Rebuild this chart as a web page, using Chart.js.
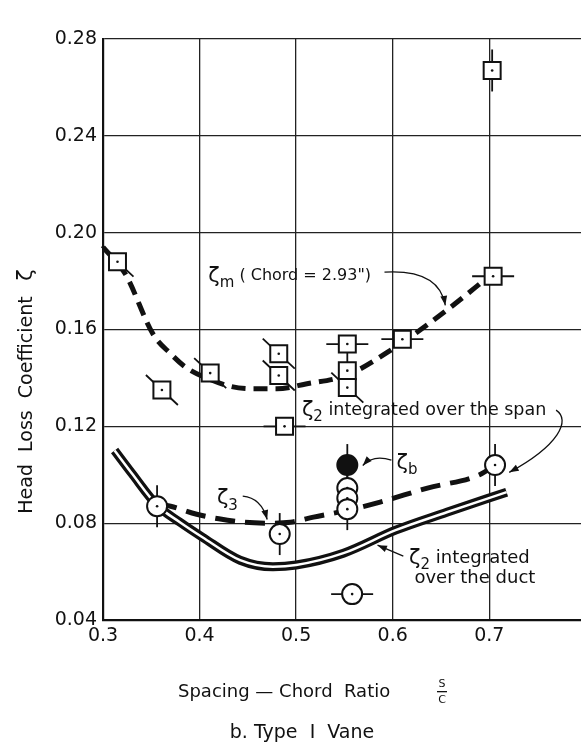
<!DOCTYPE html>
<html>
<head>
<meta charset="utf-8">
<script src="https://cdn.jsdelivr.net/npm/chart.js@4/dist/chart.umd.min.js"></script>
<style>
  body { margin: 0; background: #fff; }
  canvas { display: block; }
</style>
</head>
<body>
<canvas id="chart" width="581" height="750"></canvas>
<script>
// tick values and labels
const xTickVals = [0.3, 0.4, 0.5, 0.6, 0.7];
const xTickLabels = ["0.3", "0.4", "0.5", "0.6", "0.7"];
const yTickVals = [0.04, 0.08, 0.12, 0.16, 0.20, 0.24, 0.28];
const yTickLabels = ["0.04", "0.08", "0.12", "0.16", "0.20", "0.24", "0.28"];

// zeta_m measured points (squares), tail = direction of the scatter bar
const sqX = [0.315, 0.361, 0.411, 0.482, 0.482, 0.488, 0.553, 0.553, 0.553, 0.610, 0.704, 0.703];
const sqY = [0.188, 0.135, 0.142, 0.150, 0.141, 0.120, 0.154, 0.143, 0.136, 0.156, 0.182, 0.267];
const sqTail = ["d", "d", "d", "d", "d", "h", "h", "v", "d", "h", "h", "v"];

// zeta_2 over the span (open circles)
const circX = [0.356, 0.483, 0.553, 0.553, 0.553, 0.706, 0.558];
const circY = [0.087, 0.0755, 0.0945, 0.0903, 0.0858, 0.104, 0.0507];
const circTail = ["v", "v", "v", "v", "v", "v", "h"];

// zeta_b (filled circle)
const bX = [0.553];
const bY = [0.104];

// zeta_m fitted curve (dashed)
const zmX = [0.300, 0.323, 0.352, 0.370, 0.387, 0.410, 0.432, 0.455, 0.480, 0.510, 0.553, 0.600, 0.656, 0.700];
const zmY = [0.194, 0.183, 0.158, 0.150, 0.144, 0.1395, 0.1365, 0.1355, 0.1355, 0.1375, 0.1412, 0.152, 0.168, 0.182];

// zeta_3 curve (dashed)
const z3X = [0.356, 0.370, 0.397, 0.420, 0.445, 0.470, 0.494, 0.518, 0.553, 0.587, 0.636, 0.690, 0.706];
const z3Y = [0.088, 0.087, 0.0837, 0.0818, 0.0804, 0.0800, 0.0804, 0.0825, 0.0853, 0.0887, 0.0945, 0.1000, 0.104];

// zeta_2 integrated over the duct (double line)
const ductX = [0.312, 0.330, 0.356, 0.380, 0.403, 0.442, 0.476, 0.500, 0.549, 0.603, 0.656, 0.718];
const ductY = [0.110, 0.1005, 0.0874, 0.0803, 0.0742, 0.0647, 0.0620, 0.0627, 0.0676, 0.0771, 0.0845, 0.0928];

const pts = (xs, ys) => xs.map((x, i) => ({ x: x, y: ys[i] }));
const FONT = "DejaVu Sans";

// little bars through the markers
const tailPlugin = {
  id: "tails",
  beforeDatasetsDraw(chart) {
    const ctx = chart.ctx;
    ctx.save();
    ctx.strokeStyle = "#111";
    ctx.lineWidth = 1.8;
    chart.data.datasets.forEach((ds, i) => {
      if (!ds.tails) return;
      chart.getDatasetMeta(i).data.forEach((el, j) => {
        const t = ds.tails[j];
        ctx.beginPath();
        if (t == "h") { ctx.moveTo(el.x - 21, el.y); ctx.lineTo(el.x + 21, el.y); }
        if (t == "v") { ctx.moveTo(el.x, el.y - 21); ctx.lineTo(el.x, el.y + 21); }
        if (t == "d") { ctx.moveTo(el.x - 16, el.y - 15); ctx.lineTo(el.x + 16, el.y + 15); }
        ctx.stroke();
      });
    });
    ctx.restore();
  }
};

// draws "ζ" with a subscript, returns x after it
function zeta(ctx, x, y, sub, size) {
  ctx.font = size + "px " + FONT;
  ctx.fillText("ζ", x, y);
  const w = ctx.measureText("ζ").width;
  ctx.font = Math.round(size * 0.7) + "px " + FONT;
  ctx.fillText(sub, x + w, y + size * 0.32);
  return x + w + ctx.measureText(sub).width;
}

function arrow(ctx, p) {
  ctx.beginPath();
  ctx.moveTo(p[0].x, p[0].y);
  if (p.length == 2) ctx.lineTo(p[1].x, p[1].y);
  if (p.length == 3) ctx.quadraticCurveTo(p[1].x, p[1].y, p[2].x, p[2].y);
  if (p.length == 4) ctx.bezierCurveTo(p[1].x, p[1].y, p[2].x, p[2].y, p[3].x, p[3].y);
  ctx.stroke();
  const e = p[p.length - 1], c = p[p.length - 2];
  const a = Math.atan2(e.y - c.y, e.x - c.x);
  ctx.beginPath();
  ctx.moveTo(e.x, e.y);
  ctx.lineTo(e.x - 10 * Math.cos(a - 0.35), e.y - 10 * Math.sin(a - 0.35));
  ctx.lineTo(e.x - 10 * Math.cos(a + 0.35), e.y - 10 * Math.sin(a + 0.35));
  ctx.closePath();
  ctx.fill();
}

// annotation anchors in data units
const arrowPaths = [
  [[0.5915, 0.1837], [0.648, 0.1850], [0.6545, 0.1700]],
  [[0.7692, 0.1267], [0.7847, 0.1226], [0.7723, 0.1122], [0.7207, 0.1010]],
  [[0.5987, 0.1060], [0.5800, 0.1085], [0.5690, 0.1038]],
  [[0.4447, 0.0912], [0.4640, 0.0905], [0.4700, 0.0815]],
  [[0.6110, 0.0664], [0.5843, 0.0709]]
];

const notePlugin = {
  id: "notes",
  afterDatasetsDraw(chart) {
    const ctx = chart.ctx, xs = chart.scales.x, ys = chart.scales.y;
    const px = (v) => xs.getPixelForValue(v), py = (v) => ys.getPixelForValue(v);
    ctx.save();
    ctx.fillStyle = "#111";
    ctx.strokeStyle = "#111";
    ctx.lineWidth = 1.3;
    ctx.textBaseline = "middle";
    ctx.textAlign = "left";

    let x = zeta(ctx, px(0.409), py(0.182), "m", 21);
    ctx.font = "16px " + FONT;
    ctx.fillText(" ( Chord = 2.93\")", x, py(0.182));

    x = zeta(ctx, px(0.506), py(0.1267), "2", 21);
    ctx.font = "17.5px " + FONT;
    ctx.fillText(" integrated over the span", x, py(0.1267));

    zeta(ctx, px(0.604), py(0.1045), "b", 21);
    zeta(ctx, px(0.418), py(0.0900), "3", 21);

    x = zeta(ctx, px(0.617), py(0.0655), "2", 21);
    ctx.font = "18px " + FONT;
    ctx.fillText(" integrated", x, py(0.0655));
    ctx.fillText("over the duct", px(0.6225), py(0.0573));

    arrowPaths.forEach((p) => arrow(ctx, p.map((q) => ({ x: px(q[0]), y: py(q[1]) }))));
    ctx.restore();
  },
  afterDraw(chart) {
    const ctx = chart.ctx;
    ctx.save();
    ctx.fillStyle = "#111";
    ctx.textBaseline = "middle";
    // y axis title
    ctx.translate(27, 392);
    ctx.rotate(-Math.PI / 2);
    ctx.textAlign = "center";
    ctx.font = "19px " + FONT;
    ctx.fillText("Head  Loss  Coefficient", -13, 0);
    ctx.font = "21px " + FONT;
    ctx.fillText("ζ", 117, 0);
    ctx.setTransform(1, 0, 0, 1, 0, 0);
    // x axis title
    ctx.textAlign = "left";
    ctx.font = "18px " + FONT;
    ctx.fillText("Spacing \u2014 Chord  Ratio", 178, 692);
    ctx.font = "11px " + FONT;
    ctx.textAlign = "center";
    ctx.fillText("S", 442, 684);
    ctx.fillText("C", 442, 700);
    ctx.fillRect(437, 691, 10, 1.3);
    ctx.font = "19px " + FONT;
    ctx.fillText("b. Type  I  Vane", 302, 733);
    ctx.restore();
  }
};

new Chart(document.getElementById("chart"), {
  type: "scatter",
  plugins: [tailPlugin, notePlugin],
  data: {
    datasets: [
      // center dots in the open markers
      {
        data: pts(sqX.concat(circX), sqY.concat(circY)),
        pointRadius: 1.3, pointBackgroundColor: "#111", pointBorderWidth: 0, order: 1
      },
      {
        data: pts(sqX, sqY), tails: sqTail,
        pointStyle: "rect", pointRadius: 12, pointBackgroundColor: "#fff",
        pointBorderColor: "#111", pointBorderWidth: 2, order: 3
      },
      {
        data: pts(bX, bY), tails: ["v"],
        pointStyle: "circle", pointRadius: 10, pointBackgroundColor: "#111",
        pointBorderColor: "#111", pointBorderWidth: 2, order: 4
      },
      {
        data: pts(circX, circY), tails: circTail,
        pointStyle: "circle", pointRadius: 10, pointBackgroundColor: "#fff",
        pointBorderColor: "#111", pointBorderWidth: 2, order: 2
      },
      {
        data: pts(zmX, zmY), showLine: true, pointRadius: 0,
        borderColor: "#111", borderWidth: 5, borderDash: [14, 8],
        cubicInterpolationMode: "monotone", order: 8
      },
      {
        data: pts(z3X, z3Y), showLine: true, pointRadius: 0,
        borderColor: "#111", borderWidth: 5, borderDash: [20, 10],
        cubicInterpolationMode: "monotone", order: 8
      },
      {
        data: pts(ductX, ductY), showLine: true, pointRadius: 0,
        borderColor: "#fff", borderWidth: 2.5,
        cubicInterpolationMode: "monotone", order: 9
      },
      {
        data: pts(ductX, ductY), showLine: true, pointRadius: 0,
        borderColor: "#111", borderWidth: 9,
        cubicInterpolationMode: "monotone", order: 10
      }
    ]
  },
  options: {
    responsive: false,
    devicePixelRatio: 1,
    animation: false,
    layout: { autoPadding: false, padding: { top: 39, right: 0, bottom: 0, left: 0 } },
    plugins: { legend: { display: false }, tooltip: { enabled: false } },
    scales: {
      x: {
        type: "linear", min: 0.3, max: 0.795,
        afterBuildTicks: (s) => { s.ticks = xTickVals.map((v) => ({ value: v })); },
        afterFit: (s) => { s.height = 130; },
        ticks: {
          callback: (v, i) => xTickLabels[i],
          color: "#111", padding: 5, maxRotation: 0,
          font: { family: FONT, size: 19 }
        },
        grid: { color: "#222", lineWidth: 1.3, drawTicks: false },
        border: { color: "#111", width: 2.2 }
      },
      y: {
        type: "linear", min: 0.04, max: 0.28,
        afterBuildTicks: (s) => { s.ticks = yTickVals.map((v) => ({ value: v })); },
        afterFit: (s) => { s.width = 103; },
        ticks: {
          callback: (v, i) => yTickLabels[i],
          color: "#111", padding: 6,
          font: { family: FONT, size: 19 }
        },
        grid: { color: "#222", lineWidth: 1.3, drawTicks: false },
        border: { color: "#111", width: 2.2 }
      }
    }
  }
});
</script>
</body>
</html>
